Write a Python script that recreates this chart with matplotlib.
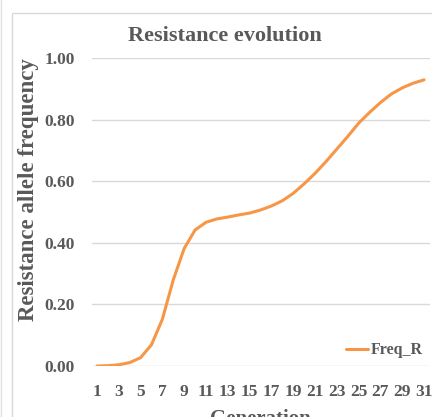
import matplotlib.pyplot as plt
from matplotlib.patches import Rectangle
from matplotlib.lines import Line2D

# Data
generations = list(range(1, 32))
freq_r = [0.000, 0.001, 0.004, 0.011, 0.027, 0.069, 0.152, 0.280, 0.382, 0.442,
          0.467, 0.478, 0.484, 0.491, 0.497, 0.507, 0.520, 0.537, 0.561, 0.592,
          0.626, 0.664, 0.705, 0.746, 0.789, 0.824, 0.856, 0.884, 0.904, 0.919,
          0.930]
y_ticks = [0.0, 0.2, 0.4, 0.6, 0.8, 1.0]
x_tick_labels = [g for g in generations if g % 2 == 1]

text_color = '#595959'
grid_color = '#d9d9d9'
line_color = '#F79646'
font = 'Liberation Serif'

plt.rcParams['font.family'] = [font, 'DejaVu Serif']
plt.rcParams['font.weight'] = 'bold'

W, H = 432, 417
fig = plt.figure(figsize=(W / 100, H / 100), dpi=100)

# chart frame (cropped at right and bottom)
fig.add_artist(Rectangle((12 / W, -0.1), 1.2, 1.1 - 13 / H, transform=fig.transFigure,
                         fill=False, edgecolor='#d9d9d9', linewidth=1.0))
fig.add_artist(Line2D([1 / W, 1 / W], [0, 1], transform=fig.transFigure,
                      color='#e0e0e0', linewidth=1.0))

left, right = 91.5 / W, 429.5 / W
top, bottom = 1 - 58.3 / H, 1 - 366 / H
ax = fig.add_axes([left, bottom, right - left, top - bottom])

ax.plot(generations, freq_r, color=line_color, linewidth=2.2, label='Freq_R',
        solid_capstyle='round', solid_joinstyle='round')

ax.set_xlim(0.5, 31.5)
ax.set_ylim(0, 1)
ax.set_yticks(y_ticks)
ax.set_yticklabels([f'{v:.2f}' for v in y_ticks])
ax.set_xticks(x_tick_labels)
ax.set_xticklabels([str(g) for g in x_tick_labels])
ax.tick_params(length=0, colors=text_color, labelsize=12.5)
ax.tick_params(axis='y', pad=12)
ax.tick_params(axis='x', pad=13)
for lab in ax.get_xticklabels() + ax.get_yticklabels():
    lab.set_fontweight('bold')

ax.grid(axis='y', color=grid_color, linewidth=1.0)
ax.set_axisbelow(True)
for s in ax.spines.values():
    s.set_visible(False)

fig.text(225 / W, 1 - 36 / H, 'Resistance evolution', ha='center', va='center',
         fontsize=16, fontweight='bold', color=text_color)
fig.text(29 / W, 1 - 190 / H, 'Resistance allele frequency', ha='center', va='center',
         rotation=90, fontsize=16.5, fontweight='bold', color=text_color)
fig.text(260 / W, 1 - 419 / H, 'Generation', ha='center', va='center',
         fontsize=15, fontweight='bold', color=text_color)

leg = ax.legend(loc='lower right', bbox_to_anchor=(1.0, 0.004), frameon=False,
                handlelength=1.4, handletextpad=0.2, borderaxespad=0.0,
                prop={'family': font, 'weight': 'bold', 'size': 11.5})
for t in leg.get_texts():
    t.set_color(text_color)

fig.savefig('out.png', dpi=100)
